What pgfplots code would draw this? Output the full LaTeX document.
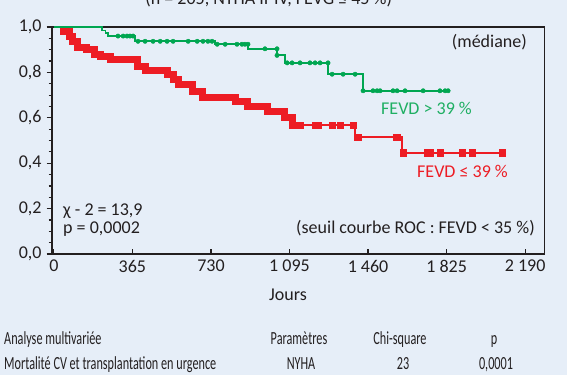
\documentclass[border=0pt]{standalone}
\usepackage{pgfplots}
\pgfplotsset{compat=1.18}
\usepackage{fontspec}
\setmainfont{Carlito}
\newfontfamily\condfont[FakeStretch=0.66]{Carlito}
\definecolor{bg}{HTML}{E6EEF8}
\definecolor{kgreen}{HTML}{00A651}
\definecolor{kred}{HTML}{ED1C24}
\definecolor{tgreen}{HTML}{1FAF63}
\definecolor{ink}{HTML}{231F20}
\begin{document}
\begin{tikzpicture}
\fontsize{18}{21}\selectfont
\path[use as bounding box, fill=bg] (-51.7pt,-121pt) rectangle (515.3pt,254pt);
\clip (-51.7pt,-121pt) rectangle (515.3pt,254pt);
\begin{axis}[at={(0,0)}, anchor=south west, scale only axis,
  width=492.6pt, height=227pt,
  xmin=-10, xmax=2279, ymin=0, ymax=1,
  axis line style={ink, line width=1.6pt},
  xtick={0,365,730,1095,1460,1825,2190},
  xticklabels={0,365,730,1 095,1 460,1 825,2 190},
  ytick={0,0.2,0.4,0.6,0.8,1},
  yticklabels={{0,0},{0,2},{0,4},{0,6},{0,8},{1,0}},
  minor ytick={0.05,0.1,0.15,0.25,0.3,0.35,0.45,0.5,0.55,0.65,0.7,0.75,0.85,0.9,0.95},
  xtick pos=bottom, ytick pos=left,
  xtick align=inside, ytick align=outside,
  major tick length=5pt, minor tick length=3pt,
  every tick/.style={ink, line width=1.2pt},
  tick label style={font=\fontsize{18}{21}\selectfont, text=ink},
  yticklabel style={xshift=1pt},
  /pgf/number format/assume math mode=true,
  clip=false,
]
% green curve
\addplot[const plot, kgreen, line width=1.8pt] coordinates {
(0,1.0)(224,0.985)(240,0.973)(252,0.960)(377,0.937)(749,0.924)(902,0.904)(1037,0.875)(1074,0.842)(1274,0.792)(1437,0.719)(1841,0.719)};
\addplot[only marks, mark=*, mark size=2.2pt, kgreen] coordinates {
(298,0.960)(322,0.960)(340,0.960)(354,0.960)(368,0.960)
(391,0.937)(424,0.937)(461,0.937)(494,0.937)(526,0.937)(554,0.937)(624,0.937)(666,0.937)(693,0.937)(716,0.937)(735,0.937)
(759,0.924)(796,0.924)(851,0.924)(874,0.924)(888,0.924)(902,0.924)
(981,0.904)(1037,0.904)(1037,0.875)
(1084,0.842)(1107,0.842)(1144,0.842)(1190,0.842)(1214,0.842)(1237,0.842)(1274,0.842)
(1293,0.792)(1344,0.792)(1400,0.792)
(1437,0.719)(1483,0.719)(1502,0.719)(1516,0.719)(1576,0.719)(1595,0.719)(1632,0.719)(1716,0.719)(1794,0.719)(1818,0.719)(1832,0.719)};
% red curve thick band
\addplot[const plot, kred, line width=7pt] coordinates {
(28,0.980)(75,0.956)(85,0.934)(112,0.91)(154,0.9)(191,0.88)(215,0.868)(261,0.855)(387,0.824)(424,0.81)(526,0.79)(554,0.767)(577,0.745)(646,0.718)(693,0.69)(842,0.67)(902,0.648)(995,0.626)(1074,0.6)(1107,0.568)(1125,0.568)};
\addplot[const plot, kred, line width=1.8pt] coordinates {
(1107,0.568)(1400,0.515)(1618,0.445)(2083,0.445)};
\addplot[only marks, mark=square*, mark size=3.3pt, kred] coordinates {
(1121,0.568)(1144,0.568)(1214,0.568)(1227,0.568)(1293,0.568)(1330,0.568)(1391,0.568)
(1411,0.515)(1592,0.515)
(1623,0.445)(1734,0.445)(1748,0.445)(1795,0.445)(1897,0.445)(1943,0.445)(2083,0.445)};
\end{axis}
\begin{scope}[every node/.style={inner sep=0pt, text=ink}]
\node[anchor=base] at (217pt,249pt) {(n = 205, NYHA II-IV, FEVG ≤ 45 \%)};
\node[anchor=base east] at (475.3pt,206pt) {(médiane)};
\node[anchor=base west, text=tgreen] at (329.3pt,139pt) {FEVD > 39 \%};
\node[anchor=base west, text=kred] at (365.3pt,77pt) {FEVD ≤ 39 \%};
\node[anchor=base west] at (11.3pt,39pt) {χ - 2 = 13,9};
\node[anchor=base west] at (11.3pt,21pt) {p = 0,0002};
\node[anchor=base east] at (483.3pt,21pt) {(seuil courbe ROC : FEVD < 35 \%)};
\node[anchor=base] at (236.3pt,-46pt) {Jours};
\begin{scope}[every node/.append style={font=\condfont\fontsize{18.5}{21}\selectfont}]
\node[anchor=base west] at (-47.7pt,-90pt) {Analyse multivariée};
\node[anchor=base] at (247.3pt,-90pt) {Paramètres};
\node[anchor=base] at (348.3pt,-90pt) {Chi-square};
\node[anchor=base] at (442.3pt,-90pt) {p};
\node[anchor=base west] at (-47.7pt,-115.5pt) {Mortalité CV et transplantation en urgence};
\node[anchor=base] at (249.3pt,-115.5pt) {NYHA};
\node[anchor=base] at (351.3pt,-115.5pt) {23};
\node[anchor=base] at (444.3pt,-115.5pt) {0,0001};
\end{scope}
\end{scope}
\end{tikzpicture}
\end{document}
